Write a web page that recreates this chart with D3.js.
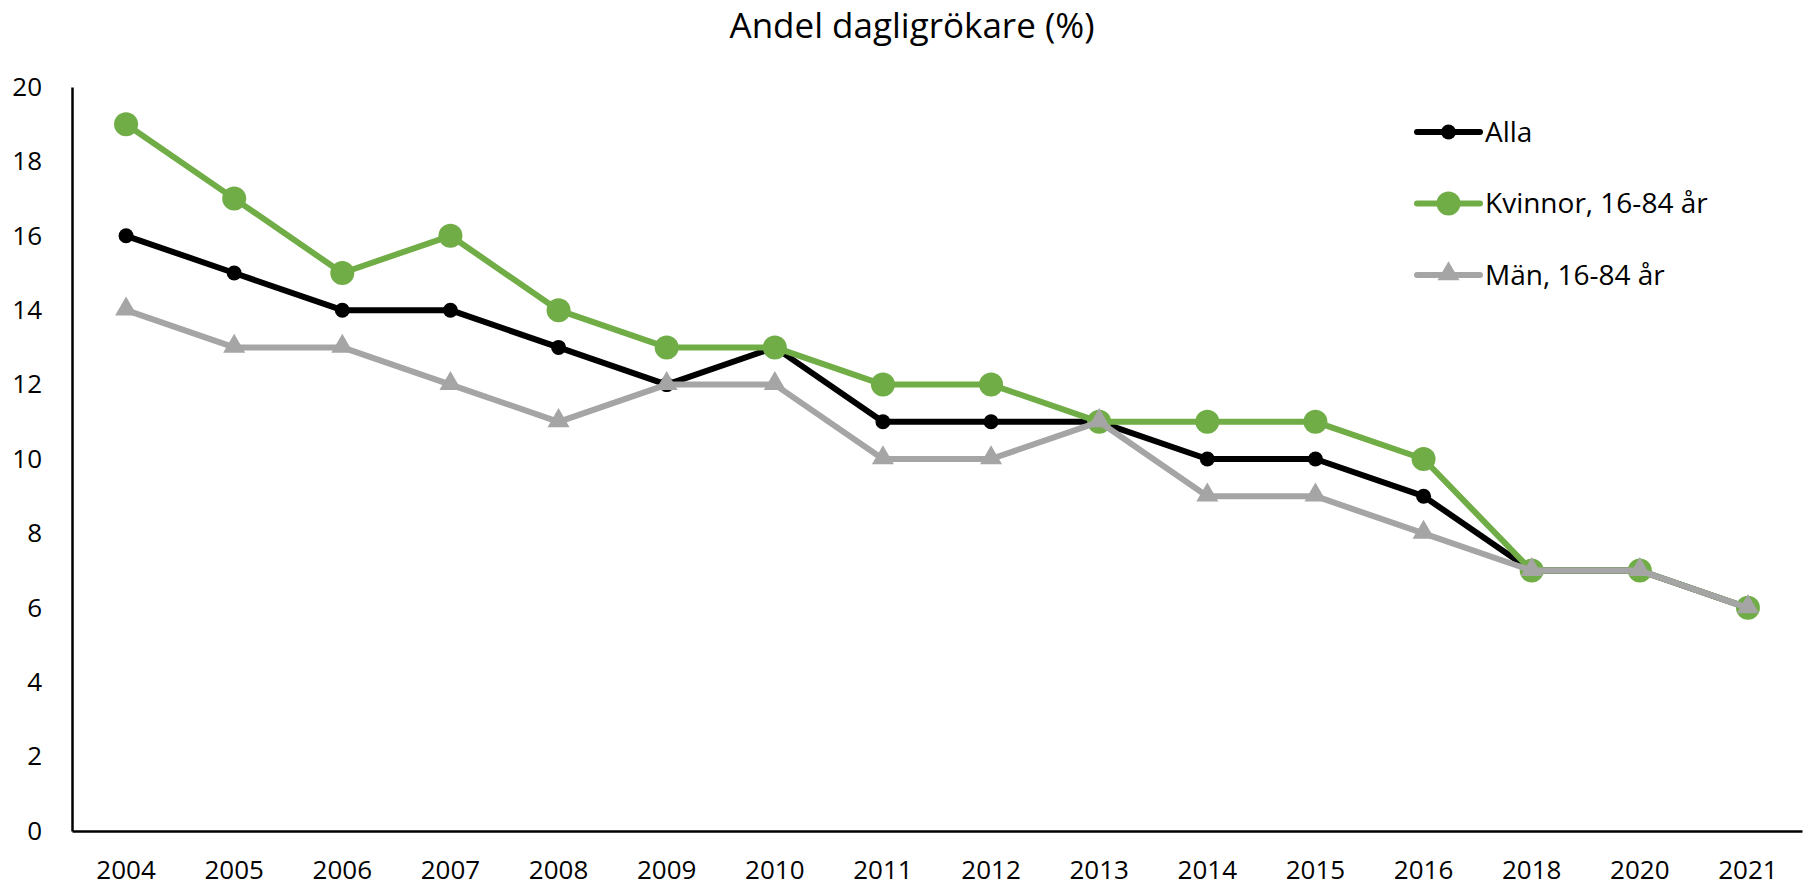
<!DOCTYPE html>
<html>
<head>
<meta charset="utf-8">
<script src="https://cdn.jsdelivr.net/npm/d3@7"></script>
<style>
  body { margin: 0; background: #fff; }
  svg { display: block; font-family: "Open Sans", sans-serif; }
</style>
</head>
<body>
<div id="chart"></div>
<script>
const width = 1808;
const height = 887;
const margin = { top: 87, right: 6, bottom: 56, left: 72 };

// Years on the x axis (categorical, note gaps 2017/2019)
const years = ["2004", "2005", "2006", "2007", "2008", "2009", "2010", "2011", "2012", "2013", "2014", "2015", "2016", "2018", "2020", "2021"];

// Share of daily smokers (%)
const alla    = [16, 15, 14, 14, 13, 12, 13, 11, 11, 11, 10, 10, 9, 7, 7, 6];
const kvinnor = [19, 17, 15, 16, 14, 13, 13, 12, 12, 11, 11, 11, 10, 7, 7, 6];
const man     = [14, 13, 13, 12, 11, 12, 12, 10, 10, 11, 9, 9, 8, 7, 7, 6];

const yTicks = [0, 2, 4, 6, 8, 10, 12, 14, 16, 18, 20];

const series = [
  { name: "Alla", values: alla, color: "#000000", marker: "circle", r: 7.5 },
  { name: "Kvinnor, 16-84 år", values: kvinnor, color: "#70AD47", marker: "circle", r: 12 },
  { name: "Män, 16-84 år", values: man, color: "#A5A5A5", marker: "triangle", r: 11 }
];

const svg = d3.select("#chart").append("svg")
  .attr("width", width)
  .attr("height", height);

const x = d3.scaleBand()
  .domain(years)
  .range([margin.left, width - margin.right])
  .padding(0);

const y = d3.scaleLinear()
  .domain([0, 20])
  .range([height - margin.bottom, margin.top]);

// Title
svg.append("text")
  .attr("x", 912)
  .attr("y", 38)
  .attr("text-anchor", "middle")
  .style("font-size", "35px")
  .style("fill", "#000")
  .text("Andel dagligrökare (%)");

// Y axis
const yAxis = svg.append("g")
  .attr("transform", `translate(${margin.left},0)`)
  .call(d3.axisLeft(y).tickValues(yTicks).tickSize(0).tickPadding(30));
yAxis.select(".domain").attr("stroke", "#000").attr("stroke-width", 2.5);
yAxis.selectAll("text")
  .style("font-family", "'Open Sans', sans-serif")
  .style("font-size", "26px")
  .attr("fill", "#000");

// X axis
const xAxis = svg.append("g")
  .attr("transform", `translate(0,${height - margin.bottom})`)
  .call(d3.axisBottom(x).tickSize(0).tickPadding(30));
xAxis.select(".domain").attr("stroke", "#000").attr("stroke-width", 2.5);
xAxis.selectAll("text")
  .style("font-family", "'Open Sans', sans-serif")
  .style("font-size", "26px")
  .attr("fill", "#000");

const cx = (d, i) => x(years[i]) + x.bandwidth() / 2;

const line = d3.line()
  .x(cx)
  .y(d => y(d));

const triangle = d3.symbol().type(d3.symbolTriangle).size(210);

series.forEach(s => {
  const g = svg.append("g");
  g.append("path")
    .datum(s.values)
    .attr("fill", "none")
    .attr("stroke", s.color)
    .attr("stroke-width", 6)
    .attr("stroke-linejoin", "round")
    .attr("d", line);

  if (s.marker === "circle") {
    g.selectAll("circle")
      .data(s.values)
      .join("circle")
        .attr("cx", cx)
        .attr("cy", d => y(d))
        .attr("r", s.r)
        .attr("fill", s.color);
  } else {
    g.selectAll("path.marker")
      .data(s.values)
      .join("path")
        .attr("class", "marker")
        .attr("d", triangle)
        .attr("transform", (d, i) => `translate(${cx(d, i)},${y(d) - 1})`)
        .attr("fill", s.color);
  }
});

// Legend
const legend = svg.append("g");
series.forEach((s, i) => {
  const ly = 132 + i * 71.5;
  const row = legend.append("g").attr("transform", `translate(1417,${ly})`);
  row.append("line")
    .attr("x1", 0).attr("x2", 63)
    .attr("y1", 0).attr("y2", 0)
    .attr("stroke", s.color)
    .attr("stroke-width", 6)
    .attr("stroke-linecap", "round");
  if (s.marker === "circle") {
    row.append("circle").attr("cx", 31.5).attr("cy", 0).attr("r", s.r).attr("fill", s.color);
  } else {
    row.append("path").attr("d", triangle).attr("transform", "translate(31.5,-1)").attr("fill", s.color);
  }
  row.append("text")
    .attr("x", 68)
    .attr("y", 0)
    .attr("dy", "0.35em")
    .style("font-size", "28px")
    .style("fill", "#000")
    .text(s.name);
});
</script>
</body>
</html>
